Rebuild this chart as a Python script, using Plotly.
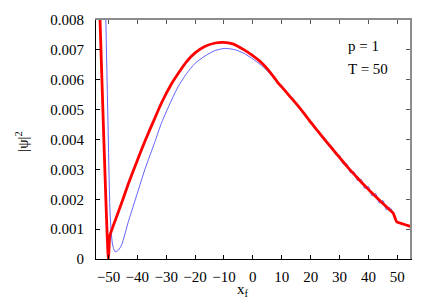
import plotly.graph_objects as go

# thick red curve
red_x = [-52.9, -50.0, -49.5, -47.0, -45.0, -43.1, -40.0, -37.3, -34.0, -31.6, -28.0, -25.8,
         -23.0, -20.0, -16.5, -13.0, -10.2, -7.0, -3.0, -0.4, 3.0, 6.0, 8.8, 10.0, 12.5,
         15.0, 17.5, 20.0, 22.5, 25.0, 27.5, 30.0, 32.5, 35.0, 37.5, 40.0, 42.5, 45.0,
         47.5, 48.6, 49.8, 52.0, 54.5]
red_y = [0.0080, 0.0000, 0.00078, 0.00146, 0.00199, 0.00252, 0.00330, 0.00396, 0.00470,
         0.00523, 0.00589, 0.00622, 0.00660, 0.00690, 0.00712, 0.00723, 0.00725, 0.00720,
         0.00700, 0.00683, 0.00657, 0.00625, 0.00589, 0.00576, 0.00548, 0.00520, 0.00490,
         0.00458, 0.00428, 0.00398, 0.00369, 0.00340, 0.00311, 0.00284, 0.00258, 0.00233,
         0.00209, 0.00186, 0.00163, 0.00153, 0.00125, 0.00117, 0.00109]

# thin blue curve
blue_x = [-50.9, -50.2, -49.4, -48.6, -47.7, -46.5, -45.4, -43.1, -40.0, -37.3, -34.0, -31.6,
          -28.0, -25.8, -23.0, -20.0, -16.5, -13.0, -9.6, -6.0, -3.0, -0.4, 3.0, 6.0, 9.0,
          10.0, 12.5, 15.0, 17.5, 20.0, 21.25, 22.5, 23.75, 25.0, 26.25, 27.5, 28.75, 30.0,
          31.25, 32.5, 33.75, 35.0, 36.25, 37.5, 38.75, 40.0, 41.25, 42.5, 43.75, 45.0,
          46.25, 47.5, 48.6, 49.8, 52.0, 54.5]
blue_y = [0.0080, 0.00478, 0.00147, 0.00050, 0.00024, 0.00030, 0.00048, 0.00125, 0.00220,
          0.00302, 0.00390, 0.00456, 0.00535, 0.00578, 0.00620, 0.00655, 0.00680, 0.00698,
          0.00705, 0.00700, 0.00688, 0.00672, 0.00648, 0.00620, 0.00585, 0.00574, 0.00546,
          0.00519, 0.00489, 0.00461, 0.00439, 0.00432, 0.00409, 0.00403, 0.00378, 0.00375,
          0.00348, 0.00347, 0.00318, 0.00319, 0.00289, 0.00292, 0.00262, 0.00267, 0.00236,
          0.00243, 0.00211, 0.00219, 0.00187, 0.00196, 0.00164, 0.00172, 0.00153, 0.00125,
          0.00117, 0.00109]

x_ticks = [-50, -40, -30, -20, -10, 0, 10, 20, 30, 40, 50]
y_ticks = [0, 0.001, 0.002, 0.003, 0.004, 0.005, 0.006, 0.007, 0.008]
y_tick_text = ["0", "0.001", "0.002", "0.003", "0.004", "0.005", "0.006", "0.007", "0.008"]

XR = [-54.3, 54.4]
YR = [0, 0.008]
FONT = "Liberation Serif, Times New Roman, serif"
FS = 15

fig = go.Figure()
fig.add_trace(go.Scatter(x=blue_x, y=blue_y, mode="lines",
                         line=dict(color="rgb(80,80,255)", width=0.9, shape="spline",
                                   smoothing=0.6),
                         showlegend=False))
fig.add_trace(go.Scatter(x=red_x, y=red_y, mode="lines",
                         line=dict(color="rgb(255,0,0)", width=2.8, shape="spline",
                                   smoothing=0.5),
                         showlegend=False))
fig.add_trace(go.Scatter(x=[0], y=[0.004], xaxis="x2", yaxis="y2", mode="markers",
                         marker=dict(opacity=0), showlegend=False, hoverinfo="skip"))

fig.update_layout(
    width=436, height=305,
    margin=dict(l=96, r=26, t=18, b=45.5),
    paper_bgcolor="white", plot_bgcolor="white",
    xaxis=dict(range=XR, tickvals=x_ticks, showline=True, linecolor="black", linewidth=1,
               tickcolor="black", showgrid=False, zeroline=False, ticks="inside", ticklen=4,
               ticklabelstandoff=4,
               tickfont=dict(family=FONT, size=FS, color="black")),
    yaxis=dict(range=YR, tickvals=y_ticks, ticktext=y_tick_text, showline=True,
               linecolor="black", linewidth=1, tickcolor="black", showgrid=False,
               zeroline=False, ticks="inside", ticklen=4, ticklabelstandoff=8,
               tickfont=dict(family=FONT, size=FS, color="black")),
    xaxis2=dict(range=XR, overlaying="x", side="top", tickvals=x_ticks, showticklabels=False,
                showline=True, linecolor="rgb(140,140,140)", linewidth=1.5,
                tickcolor="rgb(90,90,90)", showgrid=False, zeroline=False, ticks="inside",
                ticklen=4),
    yaxis2=dict(range=YR, overlaying="y", side="right", tickvals=y_ticks, showticklabels=False,
                showline=True, linecolor="rgb(140,140,140)", linewidth=1.8,
                tickcolor="rgb(90,90,90)", showgrid=False, zeroline=False, ticks="inside",
                ticklen=4),
    annotations=[
        dict(text="p = 1", x=0.796, y=0.891, xref="paper", yref="paper", xanchor="left",
             yanchor="middle", showarrow=False, font=dict(family=FONT, size=FS, color="black")),
        dict(text="T = 50", x=0.796, y=0.797, xref="paper", yref="paper", xanchor="left",
             yanchor="middle", showarrow=False, font=dict(family=FONT, size=FS, color="black")),
        dict(text="|ψ|<sup>2</sup>", x=-0.236, y=0.494, xref="paper", yref="paper",
             textangle=-90, xanchor="center", yanchor="middle", showarrow=False,
             font=dict(family=FONT, size=FS, color="black")),
        dict(text="x<sub>f</sub>", x=0.468, y=-0.128, xref="paper", yref="paper",
             xanchor="center", yanchor="middle", showarrow=False,
             font=dict(family=FONT, size=FS, color="black")),
    ],
)

fig.write_html("out.html", config={"displayModeBar": False},
               post_script="document.body.style.margin='0';")
